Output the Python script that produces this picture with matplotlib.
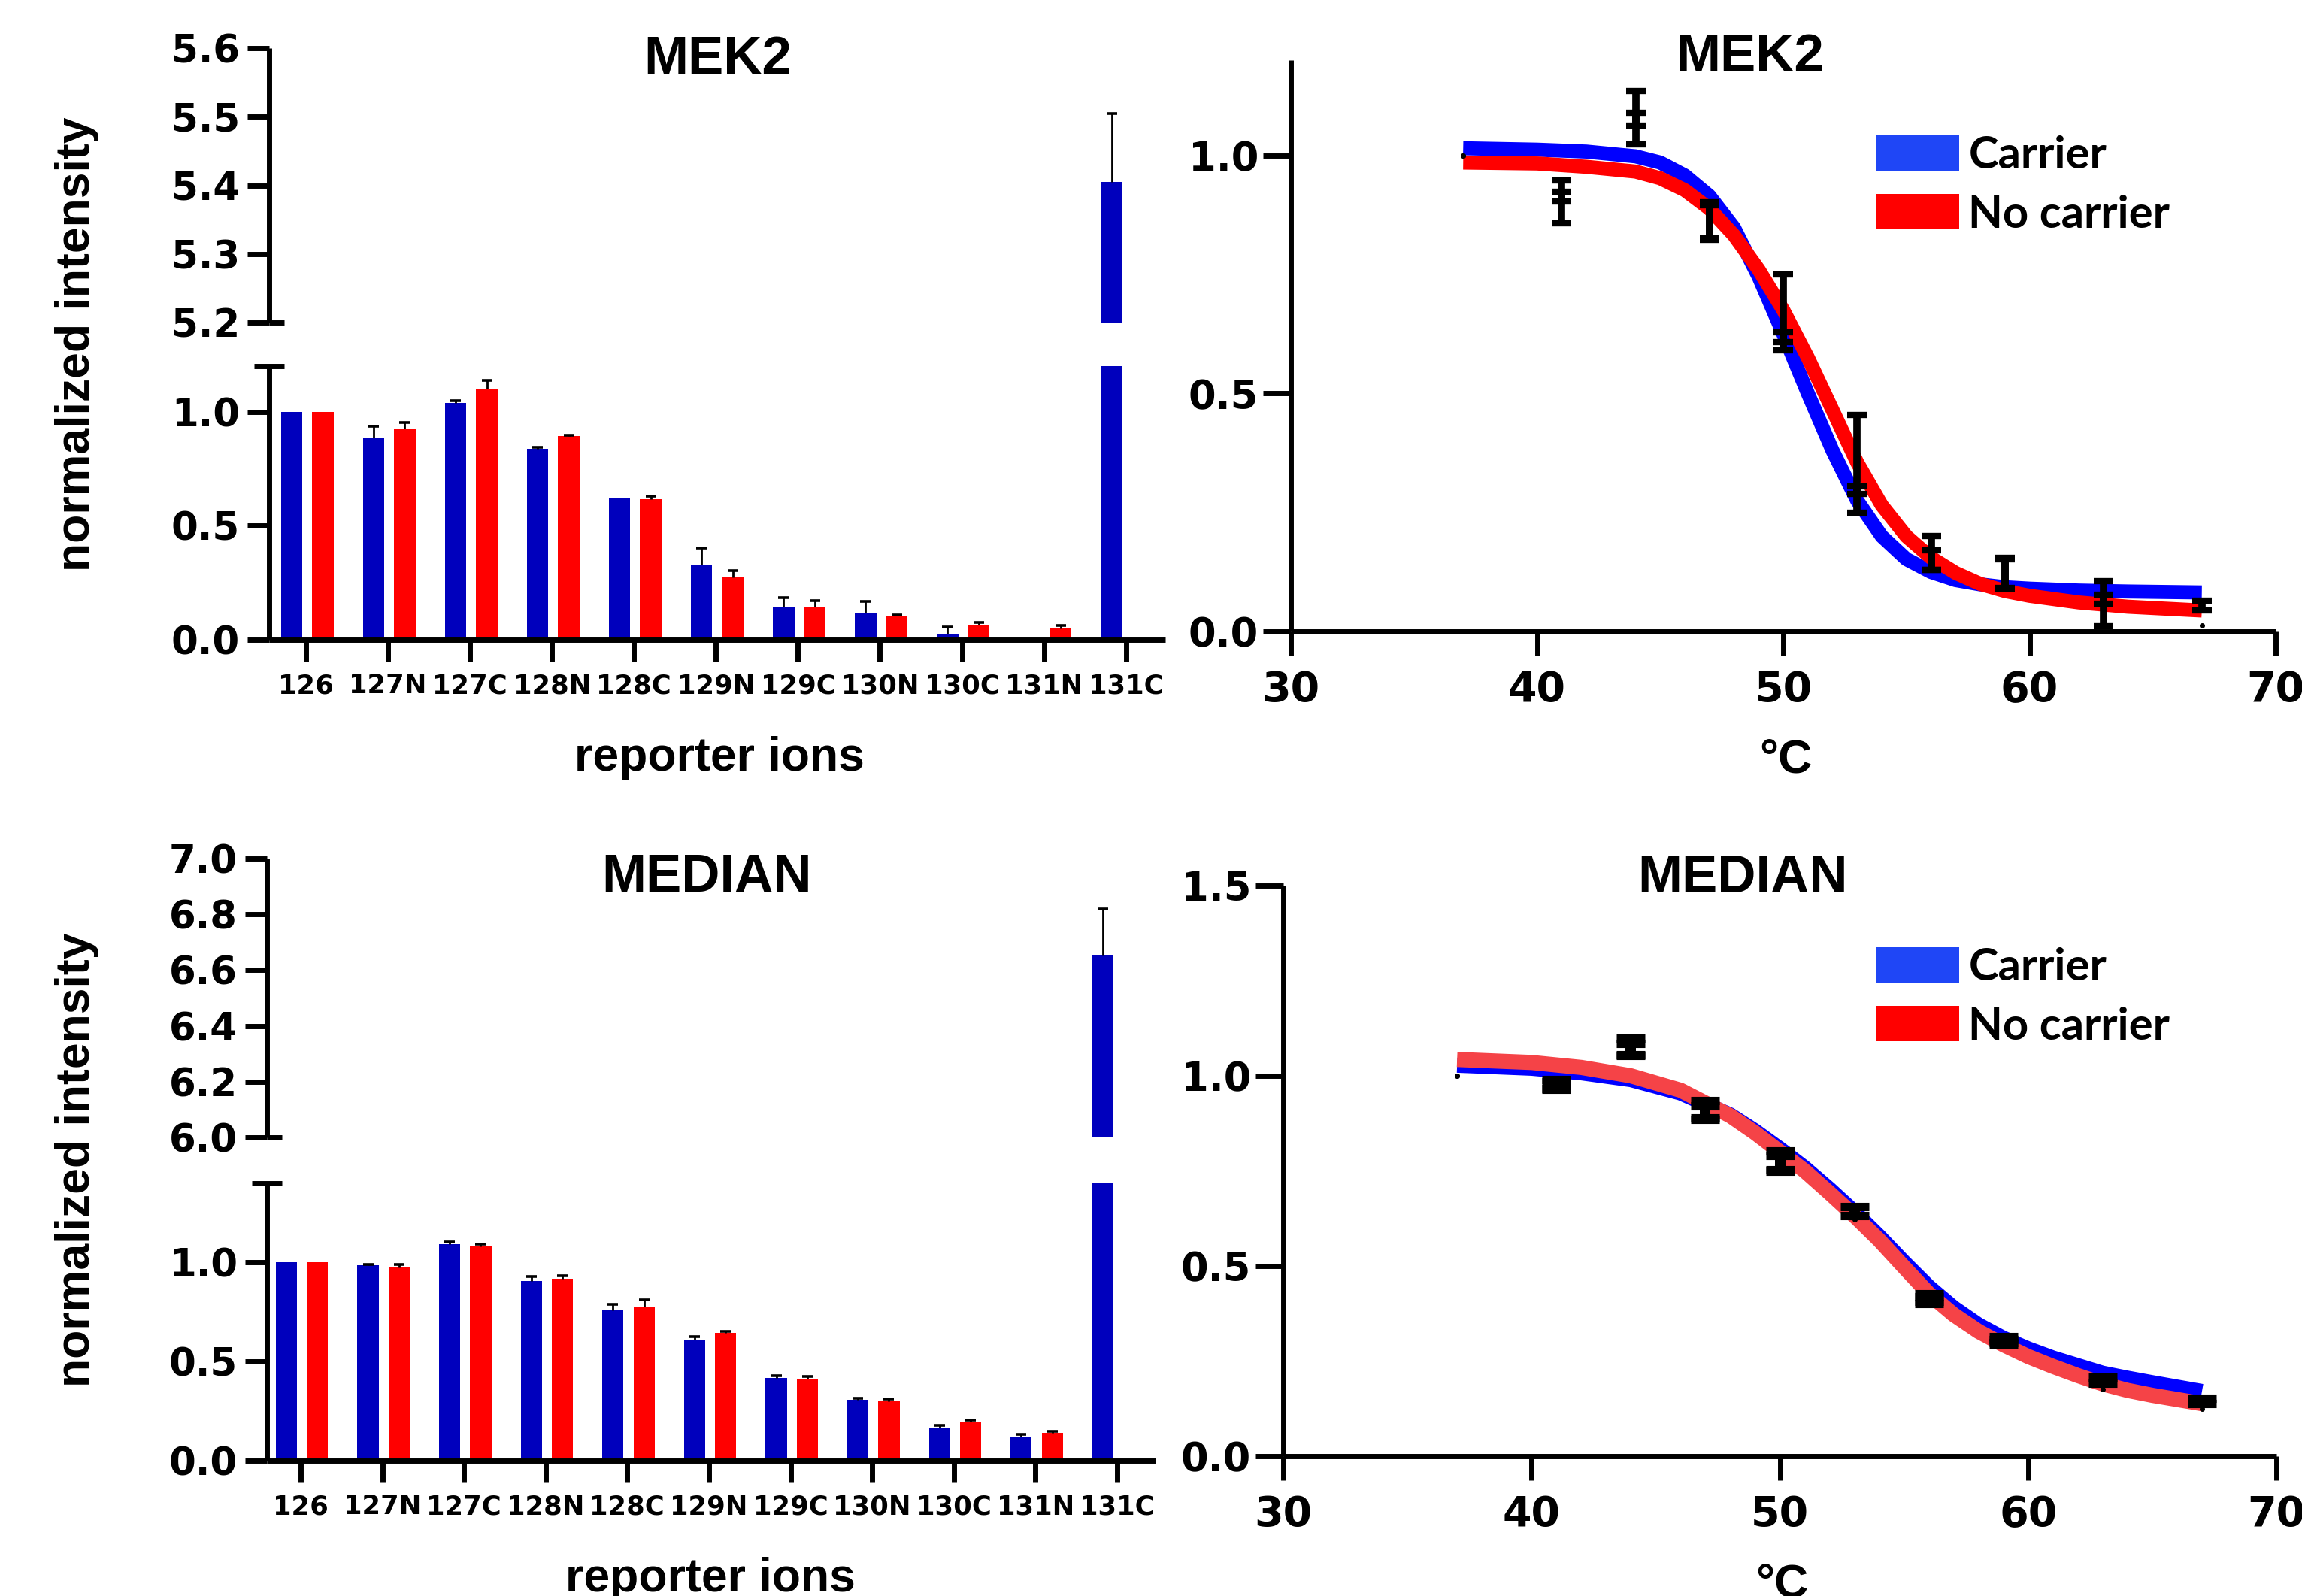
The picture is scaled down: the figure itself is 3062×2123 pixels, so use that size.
import numpy as np
import matplotlib
matplotlib.use('Agg')
import matplotlib.pyplot as plt
from matplotlib.patches import Patch

W, H = 3062, 2123

# ---- bar chart data (reporter ions) ----
ions = ['126', '127N', '127C', '128N', '128C', '129N', '129C', '130N', '130C', '131N', '131C']

mek2_carrier = np.array([1.0, 0.886, 1.038, 0.839, 0.622, 0.331, 0.146, 0.120, 0.028, np.nan, 5.405])
mek2_carrier_err = np.array([0.0, 0.051, 0.009, 0.004, 0.0, 0.071, 0.038, 0.047, 0.027, 0.0, 0.100])
mek2_nocarrier = np.array([1.0, 0.926, 1.100, 0.893, 0.615, 0.275, 0.146, 0.107, 0.065, 0.051, np.nan])
mek2_nocarrier_err = np.array([0.0, 0.027, 0.039, 0.004, 0.016, 0.028, 0.024, 0.003, 0.010, 0.010, 0.0])

med_carrier = np.array([1.0, 0.987, 1.093, 0.907, 0.758, 0.609, 0.416, 0.308, 0.167, 0.121, 6.653])
med_carrier_err = np.array([0.0, 0.005, 0.010, 0.024, 0.031, 0.018, 0.011, 0.006, 0.010, 0.013, 0.166])
med_nocarrier = np.array([1.0, 0.974, 1.082, 0.918, 0.779, 0.645, 0.414, 0.301, 0.198, 0.141, np.nan])
med_nocarrier_err = np.array([0.0, 0.018, 0.011, 0.015, 0.033, 0.008, 0.010, 0.010, 0.008, 0.008, 0.0])

# ---- melting curve data ----
temps = np.array([37, 41, 44, 47, 50, 53, 56, 59, 63, 67])

mek2_tpp_carrier = np.array([1.0, 0.925, 1.099, 0.862, 0.610, 0.277, 0.150, 0.122, 0.082, 0.055])
mek2_tpp_carrier_err = np.array([0.0, 0.022, 0.036, 0.039, 0.019, 0.027, 0.020, 0.032, 0.024, 0.010])
mek2_tpp_nocarrier = np.array([1.0, 0.891, 1.056, 0.860, 0.679, 0.372, 0.165, 0.122, 0.044, 0.012])
mek2_tpp_nocarrier_err = np.array([0.0, 0.033, 0.033, 0.035, 0.071, 0.083, 0.035, 0.030, 0.033, 0.0])

med_tpp_carrier = np.array([1.0, 0.978, 1.076, 0.910, 0.778, 0.645, 0.417, 0.306, 0.200, 0.146])
med_tpp_carrier_err = np.array([0.0, 0.012, 0.023, 0.025, 0.025, 0.012, 0.010, 0.008, 0.008, 0.007])
med_tpp_nocarrier = np.array([1.0, 0.975, 1.070, 0.905, 0.770, 0.623, 0.410, 0.300, 0.176, 0.124])
med_tpp_nocarrier_err = np.array([0.0, 0.010, 0.015, 0.015, 0.020, 0.0, 0.008, 0.006, 0.0, 0.0])

# fitted curves
mek2_fit_t = np.array([37, 40, 42, 44, 45, 46, 47, 48, 49, 50, 51, 52, 53, 54, 55, 56, 57, 58, 59, 60, 62, 64, 67])
mek2_fit_carrier = np.array([1.015, 1.012, 1.008, 0.998, 0.985, 0.958, 0.915, 0.848, 0.745, 0.625, 0.500, 0.380,
                             0.275, 0.200, 0.152, 0.125, 0.108, 0.099, 0.093, 0.090, 0.086, 0.084, 0.082])
mek2_fit_nocarrier = np.array([0.985, 0.983, 0.976, 0.966, 0.952, 0.927, 0.888, 0.832, 0.760, 0.675, 0.575, 0.465,
                               0.355, 0.265, 0.200, 0.155, 0.123, 0.100, 0.085, 0.075, 0.061, 0.052, 0.044])

med_fit_t = np.array([37, 40, 42, 44, 46, 48, 49, 50, 51, 52, 53, 54, 55, 56, 57, 58, 59, 60, 61, 62, 63, 64, 65, 67])
med_fit_carrier = np.array([1.028, 1.020, 1.008, 0.990, 0.955, 0.897, 0.855, 0.808, 0.758, 0.702, 0.642, 0.578,
                            0.510, 0.445, 0.390, 0.345, 0.310, 0.282, 0.258, 0.238, 0.218, 0.205, 0.193, 0.170])
med_fit_nocarrier = np.array([1.043, 1.035, 1.022, 1.000, 0.962, 0.895, 0.850, 0.800, 0.750, 0.692, 0.632, 0.568,
                              0.497, 0.427, 0.372, 0.328, 0.293, 0.262, 0.236, 0.212, 0.190, 0.173, 0.160, 0.138])

BAR_BLUE = '#0000bd'
BAR_RED = '#ff0000'
SPINE = 5.0
TITLE_FONT = 'Liberation Sans'

plt.rcParams['font.family'] = 'DejaVu Sans'
plt.rcParams['font.weight'] = 'bold'


def rect(x0, y0, x1, y1):
    # pixel box (top-left origin) -> figure fraction
    return [x0 / W, 1 - y1 / H, (x1 - x0) / W, (y1 - y0) / H]


def clean(ax):
    ax.spines['top'].set_visible(False)
    ax.spines['right'].set_visible(False)
    ax.spines['left'].set_linewidth(SPINE)
    ax.spines['bottom'].set_linewidth(SPINE)
    ax.spines['left'].set_capstyle('butt')
    ax.spines['bottom'].set_capstyle('butt')


def draw_bars(ax, carrier, carrier_err, nocarrier, nocarrier_err):
    x = np.arange(len(ions))
    for xpos, vals, err, col in ((x - 0.175, carrier, carrier_err, BAR_BLUE),
                                 (x + 0.205, nocarrier, nocarrier_err, BAR_RED)):
        ok = np.isfinite(vals)
        ax.bar(xpos[ok], vals[ok], width=0.26, color=col, zorder=1)
        m = ok & (err > 0)
        _, caps, _ = ax.errorbar(xpos[m], vals[m], yerr=[np.zeros(m.sum()), err[m]], fmt='none',
                                 ecolor='k', elinewidth=2.0, capsize=4.7, capthick=2.6, zorder=2)
        caps[0].set_visible(False)


def bar_panel(top_box, bot_box, xlim, top_lim, top_ticks, bot_top, data):
    ax_top = fig.add_axes(rect(*top_box))
    ax_bot = fig.add_axes(rect(*bot_box))
    for ax in (ax_top, ax_bot):
        draw_bars(ax, *data)
        clean(ax)
        ax.set_xlim(xlim)
        ax.tick_params(axis='y', length=21, width=SPINE, labelsize=37, pad=7)

    ax_top.set_ylim(top_lim)
    ax_top.set_yticks(top_ticks)
    ax_top.yaxis.set_major_formatter('{x:.1f}')
    ax_top.spines['bottom'].set_visible(False)
    ax_top.tick_params(axis='x', bottom=False, labelbottom=False)

    ax_bot.set_ylim(0, bot_top)
    ax_bot.set_yticks([0, 0.5, 1.0])
    ax_bot.yaxis.set_major_formatter('{x:.1f}')
    ax_bot.set_xticks(np.arange(len(ions)))
    ax_bot.set_xticklabels(ions)
    ax_bot.tick_params(axis='x', length=21, width=SPINE, labelsize=25.5, pad=11)

    # axis break marks
    ax_top.plot([0, 0.017], [0, 0], transform=ax_top.transAxes, color='k', lw=SPINE,
                clip_on=False, solid_capstyle='butt')
    ax_bot.plot([-0.017, 0.017], [1, 1], transform=ax_bot.transAxes, color='k', lw=SPINE,
                clip_on=False, solid_capstyle='butt')


def melt_panel(box, ytop, yticks, fit_t, fit_c, fit_n, col_c, col_n, lw, means, cap):
    ax = fig.add_axes(rect(*box))
    ax.plot(fit_t, fit_c, color=col_c, lw=lw, solid_capstyle='butt', zorder=2)
    ax.plot(fit_t, fit_n, color=col_n, lw=lw, solid_capstyle='butt', zorder=3)
    for mean, err in means:
        ax.plot(temps, mean, 'o', color='k', ms=4, zorder=4)
        m = err > 0
        ax.errorbar(temps[m], mean[m], yerr=err[m], fmt='none', ecolor='k',
                    elinewidth=cap[0], capsize=cap[1], capthick=cap[2], zorder=4)
    clean(ax)
    ax.set_xlim(30, 70)
    ax.set_ylim(0, ytop)
    ax.set_xticks([30, 40, 50, 60, 70])
    ax.set_yticks(yticks)
    ax.yaxis.set_major_formatter('{x:.1f}')
    ax.tick_params(axis='x', length=23, width=SPINE, labelsize=40, pad=14)
    ax.tick_params(axis='y', length=27, width=SPINE, labelsize=38, pad=4)
    handles = [Patch(facecolor='#1f46f6', edgecolor='none', label='Carrier'),
               Patch(facecolor='#ff0000', edgecolor='none', label='No carrier')]
    return ax, handles


fig = plt.figure(figsize=(W / 100, H / 100), dpi=100)

bar_panel((358, 64, 1550, 429), (358, 487, 1550, 851), (-0.45, 10.48), (5.2, 5.6),
          [5.2, 5.3, 5.4, 5.5, 5.6], 1.2,
          (mek2_carrier, mek2_carrier_err, mek2_nocarrier, mek2_nocarrier_err))
bar_panel((355, 1142, 1537, 1513), (355, 1574, 1537, 1943), (-0.414, 10.47), (6.0, 7.0),
          [6.0, 6.2, 6.4, 6.6, 6.8, 7.0], 1.4,
          (med_carrier, med_carrier_err, med_nocarrier, med_nocarrier_err))

ax_tr, handles = melt_panel((1717, 80, 3027, 840), 1.2, [0, 0.5, 1.0], mek2_fit_t,
                            mek2_fit_carrier, mek2_fit_nocarrier, '#0000ff', '#ff0000', 13.5,
                            [(mek2_tpp_carrier, mek2_tpp_carrier_err),
                             (mek2_tpp_nocarrier, mek2_tpp_nocarrier_err)], (7, 9.5, 6))
ax_br, _ = melt_panel((1707, 1178, 3028, 1937), 1.5, [0, 0.5, 1.0, 1.5], med_fit_t,
                      med_fit_carrier, med_fit_nocarrier, '#0000ff', '#f54347', 14.5,
                      [(med_tpp_carrier, med_tpp_carrier_err),
                       (med_tpp_nocarrier, med_tpp_nocarrier_err)], (10, 14, 8))

for ax, ytop in ((ax_tr, 180), (ax_br, 1260)):
    ax.legend(handles=handles, loc='upper left', bbox_to_anchor=(2496 / W, 1 - ytop / H),
              bbox_transform=fig.transFigure, frameon=False, borderpad=0, borderaxespad=0,
              handlelength=1.85, handleheight=0.84, handletextpad=0.2, labelspacing=0.4,
              prop={'family': 'Lato', 'weight': 'bold', 'size': 43})

# titles and axis labels
def label(x, y, s, size, **kw):
    fig.text(x / W, 1 - y / H, s, family=TITLE_FONT, weight='bold', size=size, ha='center', **kw)

label(955, 98, 'MEK2', 51, va='baseline')
label(2328, 95, 'MEK2', 51, va='baseline')
label(940, 1186, 'MEDIAN', 51, va='baseline')
label(2318, 1187, 'MEDIAN', 51, va='baseline')

label(103, 458, 'normalized intensity', 45, va='center', rotation=90)
label(103, 1543, 'normalized intensity', 45, va='center', rotation=90)
label(957, 1008, 'reporter ions', 45, va='center')
label(945, 2100, 'reporter ions', 45, va='center')
label(2375, 1011, '°C', 45, va='center')
label(2370, 2108, '°C', 45, va='center')

fig.savefig('out.png', dpi=100)
